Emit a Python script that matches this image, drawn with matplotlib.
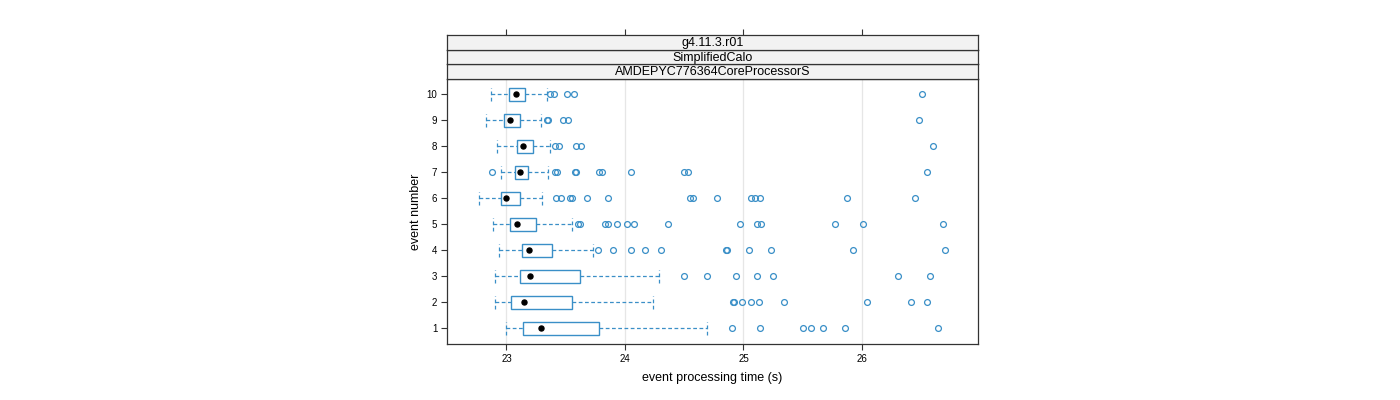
import numpy as np
import matplotlib
matplotlib.use("Agg")
import matplotlib.pyplot as plt
from matplotlib.patches import Rectangle

plt.rcParams['font.family'] = ['Liberation Sans', 'DejaVu Sans']

# event number -> box statistics (whisker low, q1, median, q3, whisker high)
EVENTS = [1, 2, 3, 4, 5, 6, 7, 8, 9, 10]
WHISKER_LOW = [23.00, 22.90, 22.90, 22.94, 22.89, 22.77, 22.95, 22.92, 22.83, 22.87]
Q1 = [23.14, 23.04, 23.11, 23.13, 23.03, 22.95, 23.07, 23.09, 22.98, 23.02]
MEDIAN = [23.29, 23.15, 23.20, 23.19, 23.09, 23.00, 23.11, 23.14, 23.03, 23.08]
Q3 = [23.78, 23.55, 23.62, 23.38, 23.25, 23.11, 23.18, 23.22, 23.11, 23.16]
WHISKER_HIGH = [24.69, 24.24, 24.29, 23.73, 23.55, 23.30, 23.35, 23.37, 23.29, 23.34]
OUTLIERS = [
    [24.90, 25.14, 25.50, 25.57, 25.67, 25.86, 26.64],
    [24.91, 24.92, 24.99, 25.06, 25.13, 25.34, 26.04, 26.41, 26.55],
    [24.50, 24.69, 24.94, 25.11, 25.25, 26.30, 26.57],
    [23.77, 23.90, 24.05, 24.17, 24.30, 24.85, 24.86, 25.05, 25.23, 25.92, 26.70],
    [23.60, 23.62, 23.83, 23.86, 23.93, 24.02, 24.08, 24.36, 24.97, 25.11, 25.15,
     25.77, 26.01, 26.68],
    [23.42, 23.46, 23.54, 23.55, 23.68, 23.86, 24.55, 24.57, 24.78, 25.06, 25.10,
     25.14, 25.87, 26.45],
    [22.88, 23.41, 23.43, 23.58, 23.59, 23.78, 23.81, 24.05, 24.50, 24.53, 26.55],
    [23.41, 23.44, 23.59, 23.63, 26.60],
    [23.34, 23.35, 23.48, 23.52, 26.48],
    [23.37, 23.40, 23.51, 23.57, 26.51],
]
STRIPS = ["g4.11.3.r01", "SimplifiedCalo", "AMDEPYC776364CoreProcessorS"]
XTICKS = [23, 24, 25, 26]

BLUE = "#3a8fc7"
FRAME = "#333333"

fig = plt.figure(figsize=(14, 4), dpi=100)
W, H = 1400, 400
left, right = 447 / W, 978 / W
bottom, top = 1 - 344 / H, 1 - 79 / H
ax = fig.add_axes([left, bottom, right - left, top - bottom])

for x in XTICKS:
    ax.axvline(x, color="#e6e6e6", lw=0.9, zorder=0)

for i, ev in enumerate(EVENTS):
    ax.plot([WHISKER_LOW[i], Q1[i]], [ev, ev], color=BLUE, lw=0.9, ls=(0, (3, 2)))
    ax.plot([Q3[i], WHISKER_HIGH[i]], [ev, ev], color=BLUE, lw=0.9, ls=(0, (3, 2)))
    for w in (WHISKER_LOW[i], WHISKER_HIGH[i]):
        ax.plot([w, w], [ev - 0.25, ev + 0.25], color=BLUE, lw=0.9, ls=(0, (3, 2)))
    ax.add_patch(Rectangle((Q1[i], ev - 0.25), Q3[i] - Q1[i], 0.5,
                           fill=False, edgecolor=BLUE, lw=1.0))
    ax.plot(MEDIAN[i], ev, "o", color="black", ms=3.6)
    ax.plot(OUTLIERS[i], [ev] * len(OUTLIERS[i]), "o", mfc="none", mec=BLUE,
            ms=4.2, mew=0.9, ls="none")

ax.set_xlim(22.498, 26.979)
ax.set_ylim(0.385, 10.577)
ax.set_yticks(EVENTS)
ax.set_yticklabels([str(e) for e in EVENTS], fontsize=7)
ax.set_xticks(XTICKS)
ax.set_xticklabels([str(t) for t in XTICKS], fontsize=7)
ax.tick_params(axis="both", length=4.5, width=0.8, color=FRAME, pad=2.5)
for s in ax.spines.values():
    s.set_color(FRAME)
    s.set_linewidth(0.9)
ax.set_xlabel("event processing time (s)", fontsize=9, labelpad=6)
ax.set_ylabel("event number", fontsize=9, labelpad=3)

# strips on top of the panel
strip_h = 14.7 / H
for k, label in enumerate(reversed(STRIPS)):
    y0 = top + k * strip_h
    sax = fig.add_axes([left, y0, right - left, strip_h])
    sax.set_facecolor("#f2f2f2")
    sax.set_xlim(ax.get_xlim())
    sax.set_yticks([])
    for s in sax.spines.values():
        s.set_color(FRAME)
        s.set_linewidth(0.9)
    sax.text(0.5, 0.45, label, transform=sax.transAxes, ha="center", va="center",
             fontsize=9)
    if k == len(STRIPS) - 1:
        sax.set_xticks(XTICKS)
        sax.xaxis.tick_top()
        sax.set_xticklabels([])
        sax.tick_params(axis="x", length=4.5, width=0.8, color=FRAME)
    else:
        sax.set_xticks([])

fig.savefig("out.png", dpi=100)
